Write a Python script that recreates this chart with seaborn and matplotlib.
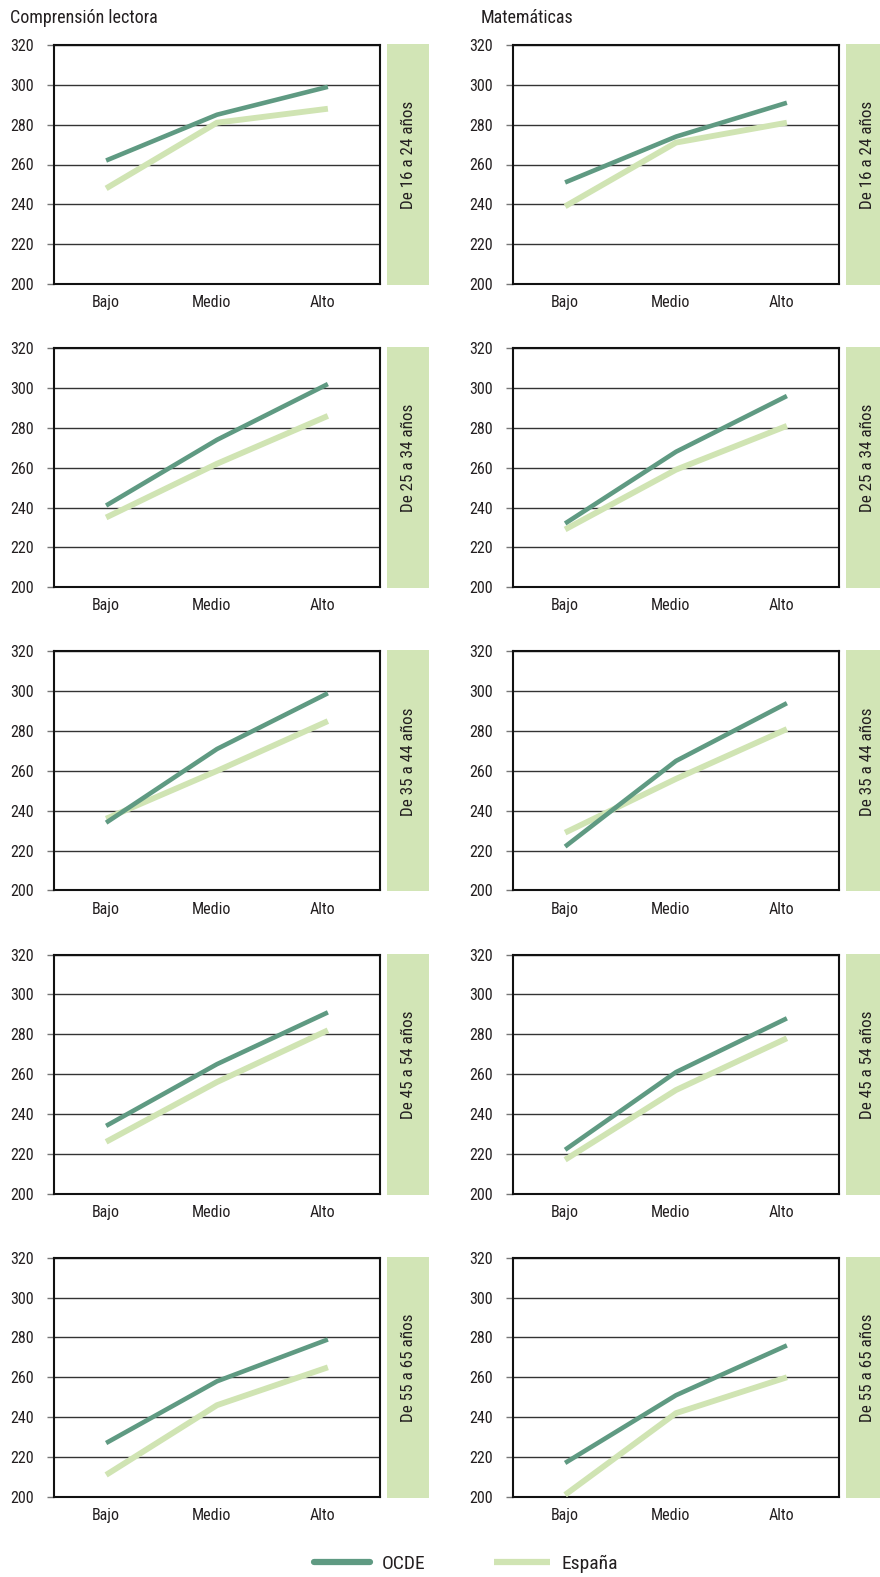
import matplotlib
matplotlib.use("Agg")
import matplotlib.pyplot as plt
from matplotlib import font_manager
from matplotlib.lines import Line2D
import seaborn as sns
import pandas as pd

# ---------------- data ----------------
niveles = ["Bajo", "Medio", "Alto"]
edades = ["De 16 a 24 años", "De 25 a 34 años", "De 35 a 44 años",
          "De 45 a 54 años", "De 55 a 65 años"]
materias = ["Comprensión lectora", "Matemáticas"]
series = ["OCDE", "España"]

lectora_ocde = [[262, 285, 299], [241, 274, 302], [234, 271, 299],
                [234, 265, 291], [227, 258, 279]]
lectora_espana = [[248, 281, 288], [235, 262, 286], [236, 260, 285],
                  [226, 256, 282], [211, 246, 265]]
mate_ocde = [[251, 274, 291], [232, 268, 296], [222, 265, 294],
             [222, 261, 288], [217, 251, 276]]
mate_espana = [[239, 271, 281], [229, 259, 281], [229, 256, 281],
               [217, 252, 278], [201, 242, 260]]

y_ticks = [200, 220, 240, 260, 280, 300, 320]

# ---------------- style ----------------
sns.set_theme(style="white")
installed = {f.name for f in font_manager.fontManager.ttflist}
cond_pref = ["Roboto Condensed", "Archivo Narrow", "PT Sans Narrow",
             "Liberation Sans Narrow", "Fira Sans Condensed",
             "IBM Plex Sans Condensed", "Encode Sans Condensed",
             "DejaVu Sans Condensed"]
cond = [f for f in cond_pref if f in installed][:1] + ["DejaVu Sans"]
plt.rcParams["font.family"] = cond

c_ocde = "#5f9a82"
c_esp = "#d0e4b3"
c_strip = "#d2e5b6"
c_txt = "#231f20"

rows = []
data_map = {("Comprensión lectora", "OCDE"): lectora_ocde,
            ("Comprensión lectora", "España"): lectora_espana,
            ("Matemáticas", "OCDE"): mate_ocde,
            ("Matemáticas", "España"): mate_espana}
for (mat, ser), vals in data_map.items():
    for i, ed in enumerate(edades):
        for j, niv in enumerate(niveles):
            rows.append(dict(materia=mat, serie=ser, edad=ed, nivel=niv,
                             puntos=vals[i][j]))
df = pd.DataFrame(rows)

W, H = 880, 1577
fig = plt.figure(figsize=(W / 100, H / 100), dpi=100)

ax_x = [54, 513]
ax_w = 326
ax_h = 239
strip_x = [387, 846]
strip_w = 42

for c, mat in enumerate(materias):
    for r, ed in enumerate(edades):
        top = 45 + 303.2 * r
        ax = fig.add_axes([ax_x[c] / W, 1 - (top + ax_h) / H, ax_w / W, ax_h / H])
        sub = df[(df.materia == mat) & (df.edad == ed)]
        sns.lineplot(data=sub, x="nivel", y="puntos", hue="serie",
                     hue_order=["España", "OCDE"],
                     palette={"OCDE": c_ocde, "España": c_esp},
                     ax=ax, legend=False, sort=False)
        for ln in ax.lines:
            if matplotlib.colors.to_hex(ln.get_color()) == c_esp:
                ln.set_linewidth(4.2)
                ln.set_zorder(3)
            else:
                ln.set_linewidth(3.3)
                ln.set_zorder(4)
            ln.set_solid_capstyle("butt")
        ax.set_xlim(-0.47, 2.47)
        ax.set_ylim(200, 320)
        ax.set_yticks(y_ticks)
        ax.set_xticks([0.0, 0.95, 1.95])
        ax.set_xticklabels(niveles)
        ax.set_xlabel("")
        ax.set_ylabel("")
        ax.grid(axis="y", color="#333333", linewidth=1.0)
        ax.set_axisbelow(True)
        for s in ax.spines.values():
            s.set_visible(True)
            s.set_color("#111111")
            s.set_linewidth(1.5)
        ax.tick_params(axis="y", left=True, length=5, width=1, color="#777777",
                       labelsize=11.5, pad=9.5, labelcolor=c_txt)
        ax.tick_params(axis="x", bottom=False, length=0, labelsize=11.5, pad=8,
                       labelcolor=c_txt)

        sax = fig.add_axes([strip_x[c] / W, 1 - (top + ax_h + 1) / H,
                            strip_w / W, (ax_h + 2) / H])
        sax.set_facecolor(c_strip)
        sax.set_xticks([])
        sax.set_yticks([])
        for s in sax.spines.values():
            s.set_visible(False)
        sax.text(0.5, 0.54, ed, rotation=90, ha="center", va="center",
                 fontsize=12.3, color=c_txt, transform=sax.transAxes)

    fig.text([10, 481][c] / W, 1 - 18 / H, mat, ha="left", va="center",
             fontsize=13, color=c_txt)

handles = [Line2D([], [], color=c_ocde, lw=4.5, solid_capstyle="round"),
           Line2D([], [], color=c_esp, lw=4.5, solid_capstyle="butt")]
fig.legend(handles, series, loc="center", bbox_to_anchor=(466 / W, 1 - 1564 / H),
           ncol=2, frameon=False, fontsize=14, handlelength=2.9,
           columnspacing=3.5, handletextpad=0.6, labelcolor=c_txt)

fig.savefig("out.png", dpi=100)
